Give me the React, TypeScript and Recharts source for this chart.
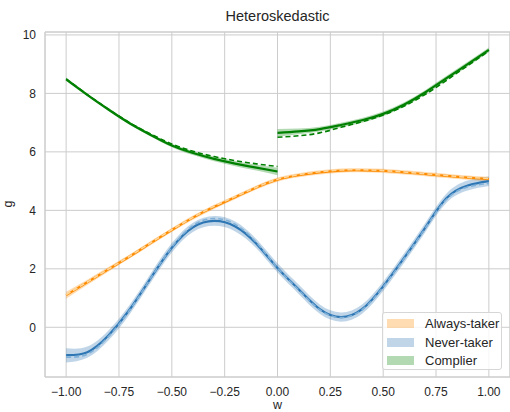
import React from "react";
import { Area, CartesianGrid, ComposedChart, Line, ReferenceArea, XAxis, YAxis } from "recharts";

// x grid
const W = [-1, -0.9, -0.8, -0.7, -0.6, -0.5, -0.4, -0.3, -0.2, -0.1, 0, 0.1, 0.2, 0.3, 0.4, 0.5, 0.6, 0.7, 0.8, 0.9, 1];
const W_LEFT = [-1, -0.9, -0.8, -0.7, -0.6, -0.5, -0.4, -0.3, -0.2, -0.1, 0];
const W_RIGHT = [0, 0.1, 0.2, 0.3, 0.4, 0.5, 0.6, 0.7, 0.8, 0.9, 1];

const X_TICKS = [-1, -0.75, -0.5, -0.25, 0, 0.25, 0.5, 0.75, 1];
const Y_TICKS = [0, 2, 4, 6, 8, 10];

// Always-taker
const alwaysEst = [1.1, 1.54, 1.98, 2.42, 2.88, 3.33, 3.75, 4.12, 4.45, 4.78, 5.05, 5.2, 5.3, 5.36, 5.37, 5.35, 5.3, 5.24, 5.18, 5.12, 5.07];
const alwaysTrue = [1.12, 1.55, 1.99, 2.43, 2.89, 3.34, 3.76, 4.14, 4.47, 4.79, 5.06, 5.22, 5.32, 5.38, 5.39, 5.36, 5.31, 5.25, 5.19, 5.13, 5.09];
const alwaysLo = [0.98, 1.45, 1.9, 2.35, 2.81, 3.26, 3.68, 4.05, 4.38, 4.71, 4.98, 5.13, 5.23, 5.29, 5.3, 5.28, 5.23, 5.17, 5.11, 5.05, 4.99];
const alwaysHi = [1.22, 1.63, 2.06, 2.49, 2.95, 3.4, 3.82, 4.19, 4.52, 4.85, 5.12, 5.27, 5.37, 5.43, 5.44, 5.42, 5.37, 5.31, 5.25, 5.19, 5.15];

// Never-taker
const neverEst = [-0.95, -0.85, -0.28, 0.6, 1.68, 2.72, 3.42, 3.64, 3.45, 2.86, 2.03, 1.3, 0.62, 0.35, 0.62, 1.4, 2.38, 3.42, 4.42, 4.85, 5.0];
const neverTrue = [-1.02, -0.92, -0.32, 0.58, 1.68, 2.74, 3.48, 3.72, 3.52, 2.9, 2.03, 1.28, 0.6, 0.33, 0.6, 1.38, 2.36, 3.4, 4.38, 4.8, 4.92];
const neverLo = [-1.2, -1.04, -0.45, 0.44, 1.52, 2.56, 3.26, 3.47, 3.28, 2.7, 1.87, 1.14, 0.46, 0.19, 0.46, 1.24, 2.22, 3.26, 4.26, 4.68, 4.83];
const neverHi = [-0.72, -0.66, -0.11, 0.76, 1.84, 2.88, 3.58, 3.81, 3.62, 3.02, 2.19, 1.46, 0.78, 0.51, 0.78, 1.56, 2.54, 3.58, 4.58, 5.02, 5.16];

// Complier, w < 0
const compLeftEst = [8.48, 7.95, 7.45, 6.98, 6.58, 6.22, 5.96, 5.76, 5.6, 5.46, 5.33];
const compLeftTrue = [8.5, 7.96, 7.46, 7.0, 6.61, 6.27, 6.02, 5.84, 5.7, 5.59, 5.5];
const compLeftLo = [8.42, 7.9, 7.4, 6.93, 6.53, 6.16, 5.89, 5.68, 5.51, 5.36, 5.2];
const compLeftHi = [8.54, 8.0, 7.5, 7.03, 6.63, 6.28, 6.03, 5.84, 5.69, 5.56, 5.46];

// Complier, w >= 0
const compRightEst = [6.65, 6.7, 6.78, 6.92, 7.08, 7.3, 7.62, 8.04, 8.52, 9.0, 9.49];
const compRightTrue = [6.5, 6.55, 6.65, 6.84, 7.03, 7.26, 7.57, 7.97, 8.45, 8.95, 9.45];
const compRightLo = [6.52, 6.6, 6.7, 6.84, 7.0, 7.22, 7.54, 7.96, 8.44, 8.92, 9.41];
const compRightHi = [6.78, 6.8, 6.86, 7.0, 7.16, 7.38, 7.7, 8.12, 8.6, 9.08, 9.57];

const ORANGE = "#ff8c00";
const BLUE = "#2e77b4";
const GREEN = "#008000";

const table = (xs: number[], est: number[], tru: number[], lo: number[], hi: number[]) =>
	xs.map((w, i) => ({ w, est: est[i], tru: tru[i], band: [lo[i], hi[i]] }));

const groups = [
	{ key: "always", color: ORANGE, dash: "#ffd69a", data: table(W, alwaysEst, alwaysTrue, alwaysLo, alwaysHi) },
	{ key: "never", color: BLUE, dash: "#7fb0d8", data: table(W, neverEst, neverTrue, neverLo, neverHi) },
	{ key: "compL", color: GREEN, dash: GREEN, data: table(W_LEFT, compLeftEst, compLeftTrue, compLeftLo, compLeftHi) },
	{ key: "compR", color: GREEN, dash: GREEN, data: table(W_RIGHT, compRightEst, compRightTrue, compRightLo, compRightHi) },
];

const legendItems = [
	{ label: "Always-taker", color: ORANGE },
	{ label: "Never-taker", color: BLUE },
	{ label: "Complier", color: GREEN },
];

const fmt = (v: number, d: number) => (v < 0 ? "\u2212" : "") + Math.abs(v).toFixed(d);

const TEXT = "#262626";
const GRID = "#cccccc";

export default function App() {
	return (
		<div
			style={{
				position: "absolute",
				left: 0,
				top: 0,
				width: 510,
				height: 412,
				background: "#fff",
				fontFamily: "'Liberation Sans', Arial, sans-serif",
				color: TEXT,
			}}
		>
			<ComposedChart width={510} height={412} margin={{ top: 32, right: 0, bottom: 0, left: 0 }}>
				<CartesianGrid stroke={GRID} strokeWidth={1} />
				<XAxis
					type="number"
					dataKey="w"
					domain={[-1.1, 1.1]}
					ticks={X_TICKS}
					allowDataOverflow
					height={35}
					axisLine={false}
					tickLine={false}
					tickSize={6}
					tickMargin={4}
					tick={{ fill: TEXT, fontSize: 12 }}
					tickFormatter={(v: number) => fmt(v, 2)}
				/>
				<YAxis
					type="number"
					domain={[-1.7, 10.1]}
					ticks={Y_TICKS}
					allowDataOverflow
					width={45}
					axisLine={false}
					tickLine={false}
					tickSize={6}
					tickMargin={3}
					tick={{ fill: TEXT, fontSize: 12 }}
					tickFormatter={(v: number) => fmt(v, 0)}
				/>
				{groups.map((g) => [
					<Area
						key={g.key + "-band"}
						data={g.data}
						dataKey="band"
						type="natural"
						stroke="none"
						fill={g.color}
						fillOpacity={0.3}
						isAnimationActive={false}
						activeDot={false}
					/>,
					<Line
						key={g.key + "-est"}
						data={g.data}
						dataKey="est"
						type="natural"
						stroke={g.color}
						strokeWidth={2.2}
						dot={false}
						activeDot={false}
						isAnimationActive={false}
					/>,
					<Line
						key={g.key + "-true"}
						data={g.data}
						dataKey="tru"
						type="natural"
						stroke={g.dash}
						strokeWidth={1.6}
						strokeDasharray="5 3"
						dot={false}
						activeDot={false}
						isAnimationActive={false}
					/>,
				])}
				<ReferenceArea x1={-1.1} x2={1.1} y1={-1.7} y2={10.1} fill="none" stroke={GRID} strokeWidth={1} />
			</ComposedChart>
			<div style={{ position: "absolute", left: 0, width: 510, top: 8, textAlign: "center", fontSize: 14.5, paddingLeft: 45, boxSizing: "border-box" }}>
				Heteroskedastic
			</div>
			<div style={{ position: "absolute", left: 45, width: 465, top: 398, textAlign: "center", fontSize: 12.5 }}>w</div>
			<div
				style={{
					position: "absolute",
					left: 5,
					top: 197,
					fontSize: 12.5,
					transform: "rotate(-90deg)",
					transformOrigin: "center",
				}}
			>
				g
			</div>
			<div
				style={{
					position: "absolute",
					left: 382,
					top: 312,
					width: 120,
					height: 58,
					background: "rgba(255,255,255,0.8)",
					border: "1px solid #d6d6d6",
					borderRadius: 3,
					boxSizing: "border-box",
					fontSize: 13,
				}}
			>
				{legendItems.map((it, i) => (
					<div key={it.label} style={{ position: "absolute", left: 4, top: 3 + i * 18.5, height: 15, display: "flex", alignItems: "center" }}>
						<span
							style={{
								display: "inline-block",
								width: 27,
								height: 9,
								background: it.color,
								opacity: 0.3,
								marginRight: 11,
							}}
						/>
						<span>{it.label}</span>
					</div>
				))}
			</div>
		</div>
	);
}
